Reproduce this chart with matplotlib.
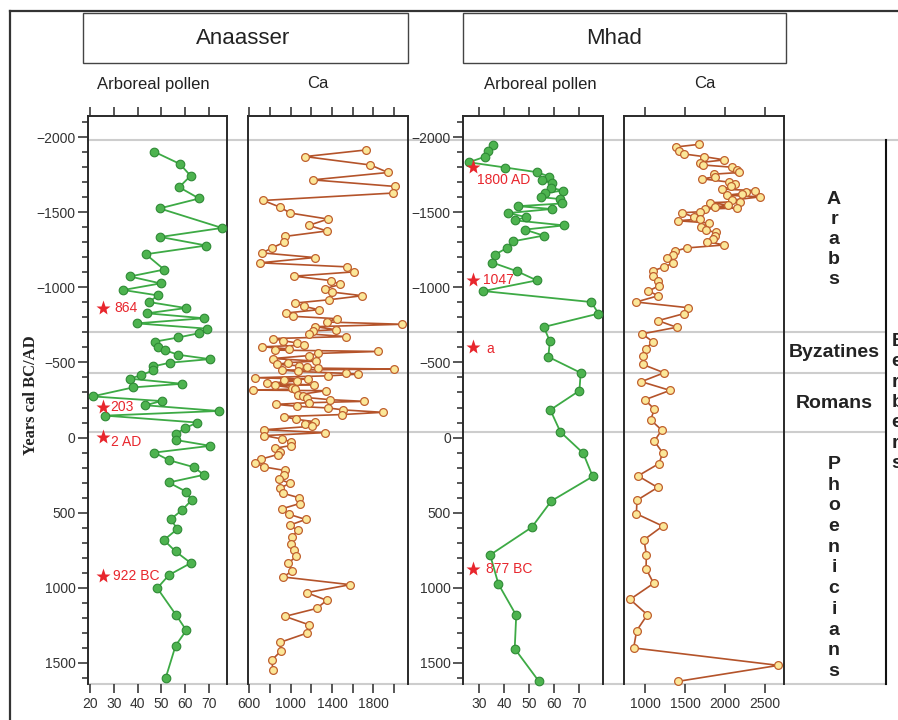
import matplotlib
matplotlib.use('Agg')
import matplotlib.pyplot as plt
from matplotlib.lines import Line2D
from matplotlib.patches import Rectangle
import matplotlib.transforms as mtransforms
from matplotlib.ticker import FixedLocator, MultipleLocator

plt.rcParams['font.family'] = ['Liberation Sans', 'DejaVu Sans']

# ---------------- data ----------------
# Anaasser arboreal pollen (%), age (negative = AD, positive = BC)
anaasser_ap_age = [-1903, -1821, -1742, -1666, -1591, -1525, -1395, -1335, -1278, -1220,
                   -1118, -1072, -1026, -982, -946, -902, -862, -827, -794, -760,
                   -725, -694, -666, -639, -606, -582, -551, -522, -498, -473,
                   -447, -414, -392, -358, -334, -274, -243, -215, -177, -146,
                   -100, -62, -24, 16, 55, 100, 151, 197, 248, 299,
                   359, 417, 481, 543, 609, 682, 758, 835, 915, 1002,
                   1183, 1283, 1385, 1602]
anaasser_ap = [46.9, 57.8, 62.3, 57.5, 65.9, 49.3, 75.5, 49.6, 68.9, 43.5,
               51.2, 36.8, 49.7, 34.0, 48.6, 44.8, 60.3, 44.1, 67.9, 39.6,
               69.0, 65.7, 57.1, 47.5, 48.6, 51.4, 57.1, 70.4, 53.5, 46.5,
               46.5, 41.4, 36.7, 58.8, 38.2, 21.1, 50.1, 43.2, 74.1, 26.4,
               65.1, 59.9, 56.0, 56.0, 70.6, 47.0, 53.3, 63.7, 67.9, 53.1,
               60.3, 62.7, 58.8, 54.0, 56.7, 51.1, 56.0, 62.4, 53.2, 48.3,
               56.3, 60.5, 56.0, 51.8]

# Anaasser Ca
anaasser_ca_age = [-1914, -1870, -1814, -1764, -1715, -1671, -1627, -1578, -1534, -1494,
                   -1454, -1412, -1375, -1339, -1300, -1264, -1229, -1198, -1163, -1136,
                   -1103, -1074, -1045, -1019, -990, -968, -944, -917, -895, -873,
                   -851, -829, -807, -791, -769, -754, -738, -718, -710, -690,
                   -672, -659, -644, -630, -615, -604, -590, -582, -573, -560,
                   -546, -526, -509, -498, -487, -478, -471, -462, -456, -449,
                   -440, -427, -422, -411, -398, -389, -383, -376, -361, -350,
                   -347, -332, -323, -316, -312, -285, -274, -266, -252, -241,
                   -232, -221, -208, -197, -184, -168, -153, -140, -122, -105,
                   -90, -75, -52, -33, -13, 9, 29, 53, 71, 93,
                   113, 144, 166, 195, 219, 248, 277, 304, 335, 370,
                   401, 439, 474, 510, 545, 583, 618, 662, 705, 747,
                   791, 838, 886, 928, 979, 1032, 1083, 1137, 1190, 1247,
                   1301, 1363, 1422, 1482, 1547]
anaasser_ca = [1729, 1139, 1771, 1942, 1213, 2013, 1987, 735, 894, 997,
               1361, 1174, 1352, 948, 939, 823, 726, 1232, 703, 1545,
               1616, 1032, 1387, 1477, 1329, 1403, 1694, 1368, 1039, 1132,
               1271, 955, 1019, 1448, 1348, 2081, 1239, 1436, 1213, 1177,
               1532, 826, 929, 1061, 1126, 726, 987, 848, 1842, 1265,
               1181, 829, 1245, 971, 868, 1078, 1155, 1268, 1997, 919,
               1068, 1536, 1655, 1365, 655, 1168, 936, 1058, 768, 1226,
               848, 1013, 1045, 639, 1339, 1074, 1116, 1161, 1384, 1713,
               1177, 855, 1058, 1365, 1510, 1890, 1494, 932, 1048, 1239,
               1139, 1203, 742, 1329, 745, 913, 1003, 1003, 848, 897,
               874, 710, 658, 739, 942, 932, 890, 994, 900, 923,
               1084, 1087, 916, 981, 1145, 990, 1068, 1013, 1006, 1036,
               1055, 971, 1016, 929, 1577, 1155, 1348, 1252, 945, 1181,
               1158, 897, 903, 816, 829]

# Mhad arboreal pollen (%)
mhad_ap_age = [-1949, -1909, -1870, -1832, -1797, -1766, -1737, -1711, -1693, -1662,
               -1644, -1627, -1600, -1587, -1558, -1540, -1521, -1494, -1468, -1445,
               -1412, -1384, -1344, -1306, -1264, -1216, -1165, -1107, -1046, -975,
               -902, -825, -736, -641, -537, -431, -312, -184, -38, 104,
               259, 422, 597, 781, 975, 1183, 1405, 1619]
mhad_ap = [35.7, 33.6, 32.5, 25.9, 40.5, 53.1, 58.0, 54.9, 59.1, 58.6,
           63.4, 56.4, 54.6, 62.4, 63.2, 45.7, 58.9, 41.6, 48.6, 44.5,
           63.9, 48.2, 55.7, 43.5, 41.3, 36.2, 35.2, 45.1, 53.0, 31.7,
           74.7, 77.6, 55.8, 58.2, 57.6, 70.5, 70.0, 58.4, 62.4, 71.5,
           75.3, 58.8, 51.0, 34.4, 37.7, 44.8, 44.2, 53.7]

# Mhad Ca
mhad_ca_age = [-1951, -1934, -1907, -1887, -1870, -1848, -1830, -1814, -1799, -1781,
               -1764, -1753, -1735, -1722, -1700, -1688, -1671, -1653, -1644, -1633,
               -1624, -1613, -1602, -1580, -1571, -1563, -1547, -1534, -1527, -1521,
               -1503, -1496, -1468, -1454, -1443, -1428, -1399, -1379, -1366, -1344,
               -1322, -1304, -1282, -1262, -1242, -1216, -1194, -1160, -1136, -1110,
               -1074, -1043, -1010, -975, -944, -902, -864, -825, -778, -734,
               -690, -639, -590, -540, -487, -431, -372, -314, -252, -188,
               -118, -50, 24, 102, 173, 255, 332, 417, 507, 589,
               680, 780, 873, 970, 1077, 1179, 1285, 1400, 1516, 1622]
mhad_ca = [1671, 1388, 1421, 1488, 1733, 1992, 1688, 1729, 2092, 2146,
           2179, 1863, 1879, 1713, 2050, 2125, 2071, 1967, 2379, 2267,
           2208, 2021, 2442, 2088, 2192, 1817, 2042, 1871, 2150, 1746,
           1692, 1463, 1613, 1688, 1408, 1800, 1700, 1758, 1888, 1871,
           1850, 1771, 1992, 1525, 1379, 1346, 1275, 1346, 1242, 1100,
           1104, 1163, 1175, 1042, 1167, 888, 1542, 1488, 1163, 1396,
           963, 1096, 1013, 971, 971, 1238, 954, 1313, 1000, 1117,
           1071, 1208, 1117, 1221, 1175, 913, 1158, 900, 892, 1221,
           988, 1017, 1013, 1108, 813, 1029, 896, 858, 2667, 1417]

# dated levels (stars)
anaasser_star_age = [-864, -203, -2, 922]
anaasser_star_lbl = ['864', '203', '2 AD', '922 BC']
mhad_star_age = [-1800, -1047, -600, 877]
mhad_star_lbl = ['1800 AD', '1047', 'a', '877 BC']

# period boundaries
period_bounds = [-700, -431, -40]
top_bound = -1980

ap1_ticks = [20, 30, 40, 50, 60, 70]
ca1_ticks = [600, 800, 1000, 1200, 1400, 1600, 1800, 2000]
ca1_ticklabels = ['600', '', '1000', '', '1400', '', '1800', '']
ap2_ticks = [30, 40, 50, 60, 70]
ca2_ticks = [1000, 1500, 2000, 2500]

# ---------------- figure ----------------
W, H = 898, 720
fig = plt.figure(figsize=(W / 100, H / 100), dpi=100)

YTOP, YBOT = 116, 684
YLIM = (1640, -2140)


def add_ax(x0, x1):
    return fig.add_axes([x0 / W, 1 - YBOT / H, (x1 - x0) / W, (YBOT - YTOP) / H])


ax1 = add_ax(88, 227)
ax2 = add_ax(248, 408)
ax3 = add_ax(463.3, 603)
ax4 = add_ax(624, 784.3)

DARK = '#2a2a2a'
GREEN_L = '#3daa45'
GREEN_F = '#4db34f'
GREEN_E = '#2f8a36'
BROWN = '#b4532a'
CA_FACE = '#fbe798'
RED = '#e8262d'


def style(ax, xlim, ticks, labels, yaxis):
    ax.set_facecolor('none')
    ax.set_xlim(*xlim)
    ax.set_ylim(*YLIM)
    ax.xaxis.set_major_locator(FixedLocator(ticks))
    ax.set_xticklabels(labels)
    ax.tick_params(axis='x', which='both', direction='out', top=True, bottom=True,
                   labeltop=False, labelbottom=True, length=6.5, width=1.1,
                   color=DARK, labelsize=10, labelcolor='#333333', pad=3)
    for s in ['left', 'right', 'top']:
        ax.spines[s].set_color(DARK)
        ax.spines[s].set_linewidth(1.4)
    ax.spines['bottom'].set_visible(False)
    if yaxis:
        ax.yaxis.set_major_locator(MultipleLocator(500))
        ax.yaxis.set_minor_locator(MultipleLocator(100))
        ax.tick_params(axis='y', which='major', direction='out', length=7, width=1.1,
                       color=DARK, labelsize=10, labelcolor='#333333', pad=2)
        ax.tick_params(axis='y', which='minor', direction='out', length=4.5, width=1.1,
                       color=DARK)
    else:
        ax.tick_params(axis='y', which='both', left=False, right=False,
                       labelleft=False)


style(ax1, (19.2, 77.6), ap1_ticks, [str(t) for t in ap1_ticks], True)
style(ax2, (587, 2135), ca1_ticks, ca1_ticklabels, False)
style(ax3, (23.7, 79.4), ap2_ticks, [str(t) for t in ap2_ticks], True)
style(ax4, (737.5, 2741), ca2_ticks, [str(t) for t in ca2_ticks], False)

# series
for ax, xs, ys in [(ax1, anaasser_ap, anaasser_ap_age), (ax3, mhad_ap, mhad_ap_age)]:
    ax.plot(xs, ys, color=GREEN_L, lw=1.3, marker='o', ms=6.2, mfc=GREEN_F,
            mec=GREEN_E, mew=0.8, clip_on=False, zorder=3)
for ax, xs, ys in [(ax2, anaasser_ca, anaasser_ca_age), (ax4, mhad_ca, mhad_ca_age)]:
    ax.plot(xs, ys, color=BROWN, lw=1.2, marker='o', ms=5.6, mfc=CA_FACE,
            mec='#c0602e', mew=0.9, clip_on=False, zorder=3)

# stars + labels
a_offsets = [(8.4, 0), (5.5, 0), (5.5, -3.6), (7.0, 0)]
for age, lbl, off in zip(anaasser_star_age, anaasser_star_lbl, a_offsets):
    ax1.plot([25.5], [age], marker='*', ms=11, color=RED, mec='none', zorder=4)
    ax1.annotate(lbl, (25.5, age), xytext=off, textcoords='offset points',
                 ha='left', va='center', fontsize=10, color=RED)
m_offsets = [(2.4, -9.6), (6.8, 0), (9.1, -0.8), (9.0, 0)]
for age, lbl, off in zip(mhad_star_age, mhad_star_lbl, m_offsets):
    ax3.plot([27.7], [age], marker='*', ms=11, color=RED, mec='none', zorder=4)
    ax3.annotate(lbl, (27.7, age), xytext=off, textcoords='offset points',
                 ha='left', va='center', fontsize=10, color=RED)

# horizontal period lines across the whole figure
trans = mtransforms.blended_transform_factory(fig.transFigure, ax1.transData)
GRAY = '#cdcdcd'
fig.add_artist(Line2D([88 / W, 1.0], [top_bound, top_bound], transform=trans,
                      color=GRAY, lw=1.5, zorder=-1))
for b in period_bounds + [YLIM[0]]:
    fig.add_artist(Line2D([88 / W, 885 / W], [b, b], transform=trans,
                          color=GRAY, lw=1.5, zorder=-1))
# vertical divider in the culture column
fig.add_artist(Line2D([885.7 / W, 885.7 / W], [top_bound, YLIM[0]], transform=trans,
                      color='#111111', lw=1.5))

# outer frame
fig.add_artist(Line2D([10 / W, 10 / W], [0, 1 - 11 / H], transform=fig.transFigure,
                      color='#333333', lw=1.6))
fig.add_artist(Line2D([10 / W, 1.0], [1 - 11 / H, 1 - 11 / H], transform=fig.transFigure,
                      color='#333333', lw=1.6))

# title boxes
for x0, x1, title, tx in [(83, 408, 'Anaasser', 243), (463, 786, 'Mhad', 614)]:
    fig.add_artist(Rectangle((x0 / W, 1 - 63 / H), (x1 - x0) / W, 50 / H,
                             transform=fig.transFigure, fill=False, ec='#444444', lw=1.0))
    fig.text(tx / W, 1 - 39 / H, title, ha='center', va='center', fontsize=16, color='#222222')

for tx, s in [(153.5, 'Arboreal pollen'), (317.5, 'Ca'), (540, 'Arboreal pollen'), (705, 'Ca')]:
    fig.text(tx / W, 1 - 84 / H, s, ha='center', va='center', fontsize=12, color='#222222')

# y label
fig.text(31 / W, 1 - 395 / H, 'Years cal BC/AD', rotation=90, ha='center', va='center',
         fontsize=12, fontweight='bold', family=['Liberation Serif', 'DejaVu Serif'],
         color='#222222')

# culture labels
PF = dict(fontsize=14, fontweight='bold', color='#222222', ha='center', va='baseline')
for k, ch in enumerate('Arabs'):
    fig.text(834 / W, 1 - (204 + 20 * k) / H, ch, **PF)
for k, ch in enumerate('Phoenicians'):
    fig.text(834 / W, 1 - (469 + 20.7 * k) / H, ch, **PF)
fig.text(834 / W, 1 - 357 / H, 'Byzatines', **PF)
fig.text(834 / W, 1 - 408 / H, 'Romans', **PF)
for k, ch in enumerate('Berbers'):
    fig.text(891.5 / W, 1 - (346 + 20.3 * k) / H, ch, fontsize=14, fontweight='bold',
             color='#222222', ha='left', va='baseline')

fig.savefig('out.png', dpi=100)
